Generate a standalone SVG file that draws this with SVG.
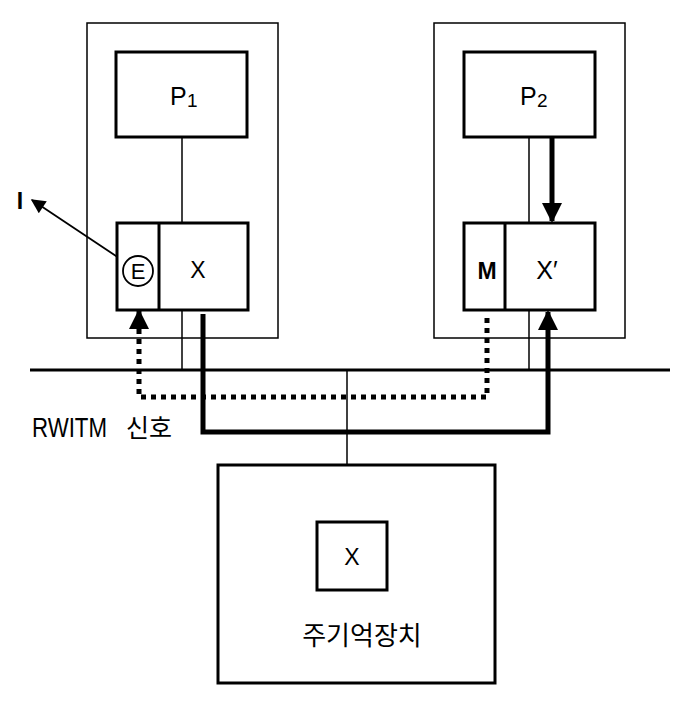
<svg xmlns="http://www.w3.org/2000/svg" width="688" height="706" viewBox="0 0 688 706">
<defs>
<style>
.thin{fill:none;stroke:#000;stroke-width:1.5}
.box{fill:#fff;stroke:#000;stroke-width:3}
.t{font-family:"Liberation Sans",Arial,sans-serif;fill:#000}
.k{font-family:"Liberation Sans","Noto Sans CJK KR",sans-serif;fill:#000}
</style>
<marker id="ah" viewBox="0 0 10 10" refX="9" refY="5" markerWidth="4" markerHeight="4" orient="auto" markerUnits="strokeWidth"><path d="M0,0 L10,5 L0,10 z" fill="#000"/></marker>
<marker id="ahs" viewBox="0 0 10 10" refX="9" refY="5" markerWidth="9" markerHeight="8" orient="auto" markerUnits="strokeWidth"><path d="M0,0 L10,5 L0,10 z" fill="#000"/></marker>
</defs>
<rect width="688" height="706" fill="#fff"/>
<g id="connectors">
<line class="thin" x1="182" y1="137" x2="182" y2="223"/>
<line class="thin" x1="182" y1="310" x2="182" y2="370"/>
<line class="thin" x1="529" y1="137" x2="529" y2="223"/>
<line class="thin" x1="529" y1="310" x2="529" y2="370"/>
<line x1="30" y1="370" x2="670" y2="370" stroke="#000" stroke-width="3"/>
<line class="thin" x1="347" y1="370" x2="347" y2="465"/>
<path d="M487,318 L487,397 L139,397 L139,322" fill="none" stroke="#000" stroke-width="5" stroke-dasharray="5 5"/>
<path d="M139,328 L139,311" fill="none" stroke="#000" stroke-width="5" marker-end="url(#ah)"/>
<path d="M203,314 L203,432 L548,432 L548,312" fill="none" stroke="#000" stroke-width="5" stroke-linejoin="miter" marker-end="url(#ah)"/>
<path d="M552,138 L552,221" fill="none" stroke="#000" stroke-width="5" marker-end="url(#ah)"/>
<line x1="125" y1="262" x2="32" y2="200" stroke="#000" stroke-width="1.8" marker-end="url(#ahs)"/>
</g>
<g id="node1">
<rect class="thin" x="87" y="23" width="191" height="315"/>
</g>
<g id="node2">
<rect class="thin" x="434" y="23" width="191" height="315"/>
</g>
<g id="p1">
<rect class="box" x="116" y="52" width="131" height="85"/>
<text class="t" x="170" y="105" font-size="25">P</text>
<text class="t" x="187" y="107" font-size="19">1</text>
</g>
<g id="p2">
<rect class="box" x="464" y="52" width="131" height="85"/>
<text class="t" x="520" y="105" font-size="25">P</text>
<text class="t" x="537" y="107" font-size="19">2</text>
</g>
<g id="cache1">
<rect class="box" x="117" y="223" width="131" height="87"/>
<line x1="159" y1="223" x2="159" y2="310" stroke="#000" stroke-width="3"/>
<circle cx="138" cy="271" r="15" fill="#fff" stroke="#000" stroke-width="1.8"/>
<text class="t" x="138" y="279" font-size="22" text-anchor="middle">E</text>
<text class="t" x="198" y="278" font-size="23" text-anchor="middle">X</text>
</g>
<g id="cache2">
<rect class="box" x="464" y="223" width="131" height="87"/>
<line x1="505" y1="223" x2="505" y2="310" stroke="#000" stroke-width="3"/>
<text class="t" x="487" y="279" font-size="23" font-weight="bold" text-anchor="middle">M</text>
<text class="t" x="547" y="279" font-size="25" text-anchor="middle">X′</text>
</g>
<g id="memory">
<rect class="box" x="218" y="465" width="277" height="218"/>
<rect class="box" x="317" y="522" width="70" height="68"/>
<text class="t" x="352" y="565" font-size="23" text-anchor="middle">X</text>
<text class="k" x="362" y="645" font-size="26" text-anchor="middle">주기억장치</text>
</g>
<g id="labels">
<text class="t" x="20" y="209" font-size="23" font-weight="bold" text-anchor="middle">I</text>
<text class="t" x="32" y="437" font-size="28" textLength="75" lengthAdjust="spacingAndGlyphs">RWITM</text>
<text class="k" x="126" y="437" font-size="25">신호</text>
</g>
</svg>
